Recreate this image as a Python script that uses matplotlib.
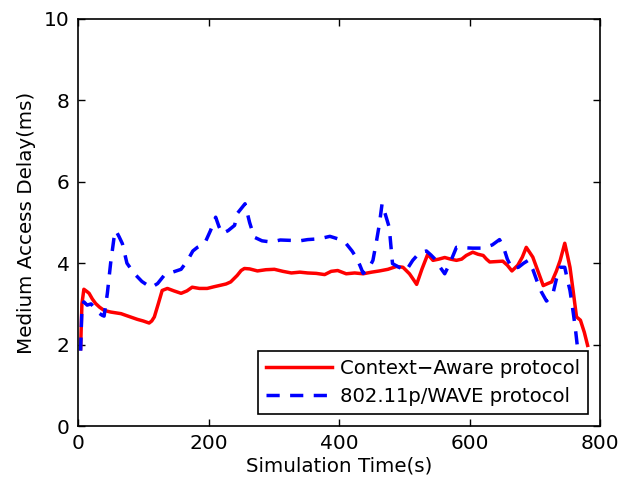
import matplotlib
matplotlib.use("Agg")
import matplotlib.pyplot as plt

red_t = [4, 6, 9, 14, 17, 22, 27, 33, 40, 50, 58, 66, 73, 82, 91, 100, 109, 113, 117, 123, 129, 137, 147, 158,
         167, 175, 186, 198, 208, 219, 227, 234, 244, 250, 255, 263, 275, 288, 301, 314, 327, 340, 352, 365,
         378, 388, 398, 411, 424, 437, 450, 462, 475, 488, 498, 503, 508, 514, 519, 527, 536, 544, 553, 562,
         571, 580, 588, 595, 605, 613, 621, 626, 631, 641, 651, 658, 665, 674, 681, 687, 697, 705, 713, 720,
         726, 733, 739, 746, 750, 754, 759, 764, 770, 776, 781]
red_d = [1.9, 3.0, 3.36, 3.3, 3.26, 3.12, 3.01, 2.92, 2.84, 2.8, 2.78, 2.76, 2.72, 2.67, 2.62, 2.58, 2.53, 2.58,
         2.68, 3.0, 3.33, 3.38, 3.32, 3.26, 3.32, 3.41, 3.38, 3.38, 3.42, 3.46, 3.49, 3.54, 3.70, 3.82, 3.87,
         3.86, 3.81, 3.84, 3.85, 3.8, 3.76, 3.78, 3.76, 3.75, 3.72, 3.8, 3.82, 3.74, 3.76, 3.74, 3.78, 3.81,
         3.85, 3.92, 3.9, 3.82, 3.74, 3.6, 3.48, 3.85, 4.22, 4.07, 4.1, 4.14, 4.1, 4.07, 4.1, 4.19, 4.27, 4.22,
         4.19, 4.1, 4.03, 4.04, 4.05, 3.95, 3.81, 3.95, 4.15, 4.39, 4.15, 3.8, 3.45, 3.5, 3.54, 3.8, 4.07, 4.49,
         4.2, 3.9, 3.3, 2.68, 2.6, 2.3, 1.98]

blue_t = [4, 6, 9, 14, 20, 30, 37, 40, 45, 50, 55, 58, 63, 68, 75, 86, 98, 112, 122, 132, 145, 158, 168, 176,
          183, 194, 203, 211, 216, 221, 230, 240, 244, 256, 263, 270, 282, 296, 310, 327, 340, 352, 370, 386,
          398, 411, 420, 426, 432, 437, 445, 452, 457, 462, 466, 471, 477, 482, 492, 503, 513, 523, 534, 541,
          549, 555, 562, 570, 580, 590, 605, 621, 635, 646, 652, 658, 665, 675, 683, 690, 697, 703, 710, 718,
          723, 728, 733, 739, 746, 750, 754, 758, 762, 766, 772, 778]
blue_d = [1.85, 2.9, 3.05, 2.97, 3.0, 2.8, 2.72, 2.7, 3.26, 4.0, 4.6, 4.8, 4.65, 4.48, 4.0, 3.75, 3.55, 3.4,
          3.5, 3.7, 3.78, 3.85, 4.07, 4.3, 4.39, 4.48, 4.8, 5.13, 4.9, 4.73, 4.8, 4.93, 5.22, 5.46, 5.0, 4.64,
          4.55, 4.52, 4.57, 4.56, 4.55, 4.58, 4.6, 4.66, 4.6, 4.48, 4.3, 4.15, 3.95, 3.75, 3.85, 4.07, 4.5,
          4.97, 5.46, 5.2, 4.88, 3.99, 3.9, 3.82, 4.07, 4.25, 4.3, 4.2, 4.07, 3.9, 3.74, 4.0, 4.39, 4.38, 4.37,
          4.37, 4.45, 4.58, 4.4, 4.1, 3.87, 3.9, 4.0, 4.07, 3.85, 3.58, 3.3, 3.07, 3.15, 3.26, 3.6, 3.9, 3.9,
          3.6, 3.33, 2.9, 2.43, 1.86, 1.6, 1.5]

series_labels = ["Context\u2212Aware protocol", "802.11p/WAVE protocol"]
x_ticks = [0, 200, 400, 600, 800]
y_ticks = [0, 2, 4, 6, 8, 10]

plt.rcParams['font.family'] = ['DejaVu Sans']
fig = plt.figure(figsize=(6.22, 4.83), dpi=100)
ax = fig.add_axes([78/622, 1-426/483, (600-78)/622, (426-19)/483])

ax.plot(red_t, red_d, color='#ff0000', lw=2.5, label=series_labels[0])
ax.plot(blue_t, blue_d, color='#0000ff', lw=2.5, ls=(0, (3.8, 3.0)), label=series_labels[1])

ax.set_xlim(0, 800)
ax.set_ylim(0, 10)
ax.set_xticks(x_ticks)
ax.set_yticks(y_ticks)
ax.tick_params(direction='in', top=True, right=True, labelsize=14.5, length=5, width=1, pad=6)
for s in ax.spines.values():
    s.set_linewidth(1.2)
ax.set_xlabel("Simulation Time(s)", fontsize=14.3, labelpad=2)
ax.set_ylabel("Medium Access Delay(ms)", fontsize=14.3, labelpad=6)

leg = ax.legend(loc='lower right', fontsize=14.1, frameon=True, fancybox=False, edgecolor='black',
                framealpha=1, handlelength=3.37, borderpad=0.42, labelspacing=0.47, handletextpad=0.38,
                borderaxespad=0.6)
leg.get_frame().set_linewidth(1.2)

fig.savefig("out.png", dpi=100)
